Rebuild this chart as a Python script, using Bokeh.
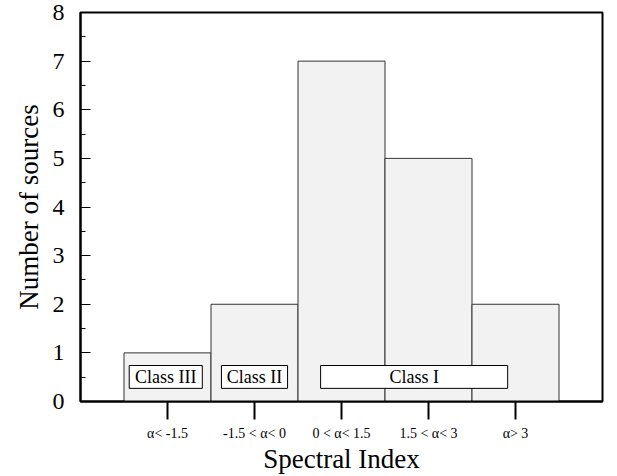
from bokeh.plotting import figure
from bokeh.models import ColumnDataSource, FixedTicker, SingleIntervalTicker, Range1d
from bokeh.core.properties import value
from bokeh.embed import file_html
from bokeh.resources import INLINE

# Histogram of spectral-index bins
bins = [1, 2, 3, 4, 5]
counts = [1, 2, 7, 5, 2]
bin_labels = ["α< -1.5", "-1.5 < α< 0", "0 < α< 1.5", "1.5 < α< 3", "α> 3"]

# Class annotation boxes (x extent and vertical extent in data units)
class_names = ["Class III", "Class II", "Class I"]
class_left = [0.56, 1.62, 2.76]
class_right = [1.40, 2.38, 4.91]
class_bottom = [0.27, 0.27, 0.27]
class_top = [0.74, 0.74, 0.74]

FONT = "Liberation Serif"

p = figure(width=617, height=476, output_backend="svg", toolbar_location=None,
           x_range=Range1d(0, 6), y_range=Range1d(0, 8),
           min_border_left=80, min_border_right=15, min_border_top=12, min_border_bottom=75)

p.background_fill_color = "white"
p.border_fill_color = "white"
p.outline_line_color = "black"
p.outline_line_width = 2
p.xgrid.visible = False
p.ygrid.visible = False

src = ColumnDataSource(dict(x=bins, top=counts))
p.vbar(x="x", top="top", bottom=0, width=1.0, source=src,
       fill_color="#f2f2f2", line_color="#333333", line_width=1)

csrc = ColumnDataSource(dict(left=class_left, right=class_right, bottom=class_bottom,
                             top=class_top, name=class_names,
                             xc=[(a + b) / 2 for a, b in zip(class_left, class_right)],
                             yc=[(a + b) / 2 for a, b in zip(class_bottom, class_top)]))
p.quad(left="left", right="right", bottom="bottom", top="top", source=csrc,
       fill_color="white", line_color="black", line_width=1)
p.text(x="xc", y="yc", text="name", source=csrc, text_align="center",
       text_baseline="middle", text_font=value(FONT), text_font_size="18px",
       text_color="black")

# x axis
xa = p.xaxis[0]
xa.ticker = FixedTicker(ticks=bins)
xa.major_label_overrides = {b: l for b, l in zip(bins, bin_labels)}
xa.major_tick_in = 0
xa.major_tick_out = 18
xa.minor_tick_line_color = None
xa.axis_line_width = 2
xa.major_tick_line_width = 2
xa.major_tick_line_color = "black"
xa.axis_line_color = "black"
xa.major_label_standoff = 6
xa.major_label_text_font = FONT
xa.major_label_text_font_size = "14px"
xa.major_label_text_color = "black"
xa.axis_label = "Spectral Index"
xa.axis_label_text_font = FONT
xa.axis_label_text_font_size = "27px"
xa.axis_label_text_font_style = "normal"
xa.axis_label_text_color = "black"
xa.axis_label_standoff = 0

# y axis
ya = p.yaxis[0]
ya.ticker = SingleIntervalTicker(interval=1, num_minor_ticks=2)
ya.major_tick_in = 10
ya.major_tick_out = 0
ya.minor_tick_in = 5
ya.minor_tick_out = 0
ya.axis_line_width = 2
ya.axis_line_color = "black"
ya.major_tick_line_color = "black"
ya.minor_tick_line_color = "black"
ya.major_tick_line_width = 1
ya.major_label_standoff = 16
ya.major_label_text_font = FONT
ya.major_label_text_font_size = "24px"
ya.major_label_text_color = "black"
ya.axis_label = "Number of sources"
ya.axis_label_text_font = FONT
ya.axis_label_text_font_size = "27px"
ya.axis_label_text_font_style = "normal"
ya.axis_label_text_color = "black"
ya.axis_label_standoff = 6

open("out.html", "w").write(file_html(p, INLINE))
